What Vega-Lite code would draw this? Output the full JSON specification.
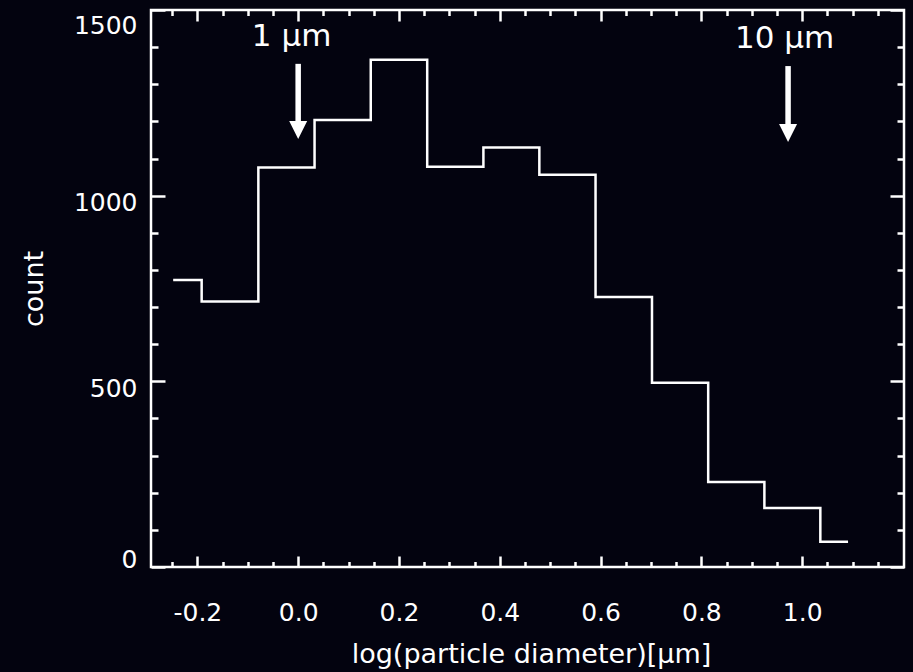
{
  "$schema": "https://vega.github.io/schema/vega-lite/v6.json",
  "width": 753,
  "height": 557,
  "autosize": {"type": "none"},
  "padding": {"left": 151, "top": 10, "right": 9, "bottom": 105},
  "background": "#03030f",
  "config": {
    "view": {"stroke": "#ffffff", "strokeWidth": 2.5},
    "axis": {
      "domain": false,
      "grid": false,
      "tickColor": "#ffffff",
      "tickWidth": 2.5,
      "labelColor": "#ffffff",
      "titleColor": "#ffffff",
      "labelFont": "DejaVu Sans",
      "titleFont": "DejaVu Sans",
      "labelFontSize": 25,
      "titleFontSize": 27,
      "titleFontWeight": "normal",
      "labelFlush": false,
      "labelOverlap": false,
      "labelBound": false
    }
  },
  "datasets": {
    "hist": [
      {"logd": -0.248, "count": 773},
      {"logd": -0.135, "count": 715},
      {"logd": -0.023, "count": 1076},
      {"logd": 0.088, "count": 1204},
      {"logd": 0.2, "count": 1366},
      {"logd": 0.312, "count": 1078},
      {"logd": 0.423, "count": 1130},
      {"logd": 0.534, "count": 1056},
      {"logd": 0.646, "count": 727},
      {"logd": 0.758, "count": 496},
      {"logd": 0.869, "count": 229},
      {"logd": 0.981, "count": 159},
      {"logd": 1.091, "count": 68}
    ],
    "arrows": [
      {"x": 0.0, "top": 1355, "bottom": 1190, "tip": 1177},
      {"x": 0.972, "top": 1349, "bottom": 1182, "tip": 1169}
    ],
    "notes": [
      {"label": "1 µm", "x": -0.013, "y": 1403},
      {"label": "10 µm", "x": 0.965, "y": 1398}
    ]
  },
  "layer": [
    {
      "data": {"name": "hist"},
      "mark": {"type": "line", "interpolate": "step", "color": "#ffffff", "strokeWidth": 2.5},
      "encoding": {
        "x": {
          "field": "logd",
          "type": "quantitative",
          "scale": {"domain": [-0.292, 1.202], "nice": false, "zero": false},
          "axis": {
            "orient": "bottom",
            "title": "log(particle diameter)[µm]",
            "titleX": 380,
            "titleY": 95,
            "titleBaseline": "alphabetic",
            "values": [-0.25, -0.2, -0.15, -0.1, -0.05, 0, 0.05, 0.1, 0.15, 0.2, 0.25, 0.3, 0.35, 0.4, 0.45, 0.5, 0.55, 0.6, 0.65, 0.7, 0.75, 0.8, 0.85, 0.9, 0.95, 1.0, 1.05, 1.1, 1.15],
            "tickSize": {"condition": {"test": "abs(datum.value*5 - round(datum.value*5)) < 0.001", "value": -11}, "value": -5.5},
            "labelBaseline": "middle",
            "labelPadding": 56,
            "labelExpr": "abs(datum.value*5 - round(datum.value*5)) < 0.001 ? (datum.value < -0.001 ? '-' + format(-datum.value, '.1f') : format(abs(datum.value), '.1f')) : ''"
          }
        },
        "y": {
          "field": "count",
          "type": "quantitative",
          "scale": {"domain": [0, 1500], "nice": false, "zero": false},
          "axis": {
            "orient": "left",
            "title": "count",
            "titleX": -109,
            "titleY": 278.5,
            "titleAngle": -90,
            "titleBaseline": "alphabetic",
            "values": [0, 100, 200, 300, 400, 500, 600, 700, 800, 900, 1000, 1100, 1200, 1300, 1400, 1500],
            "tickSize": {"condition": {"test": "datum.value % 500 === 0", "value": -14}, "value": -7},
            "labelBaseline": "middle",
            "labelPadding": 28,
            "labelOffset": {"condition": [{"test": "datum.value === 1500", "value": 15}, {"test": "datum.value === 0", "value": -7.5}], "value": 7},
            "labelExpr": "datum.value % 500 === 0 ? format(datum.value, 'd') : ''"
          }
        }
      }
    },
    {
      "data": {"name": "hist"},
      "mark": {"type": "line", "interpolate": "step", "opacity": 0},
      "encoding": {
        "x": {
          "field": "logd",
          "type": "quantitative",
          "scale": {"domain": [-0.292, 1.202], "nice": false, "zero": false},
          "axis": {
            "orient": "top",
            "title": null,
            "labels": false,
            "values": [-0.25, -0.2, -0.15, -0.1, -0.05, 0, 0.05, 0.1, 0.15, 0.2, 0.25, 0.3, 0.35, 0.4, 0.45, 0.5, 0.55, 0.6, 0.65, 0.7, 0.75, 0.8, 0.85, 0.9, 0.95, 1.0, 1.05, 1.1, 1.15],
            "tickSize": {"condition": {"test": "abs(datum.value*5 - round(datum.value*5)) < 0.001", "value": -11}, "value": -5.5}
          }
        },
        "y": {
          "field": "count",
          "type": "quantitative",
          "scale": {"domain": [0, 1500], "nice": false, "zero": false},
          "axis": {
            "orient": "right",
            "title": null,
            "labels": false,
            "values": [0, 100, 200, 300, 400, 500, 600, 700, 800, 900, 1000, 1100, 1200, 1300, 1400, 1500],
            "tickSize": {"condition": {"test": "datum.value % 500 === 0", "value": -14}, "value": -7}
          }
        }
      }
    },
    {
      "data": {"name": "arrows"},
      "mark": {"type": "rule", "color": "#ffffff", "strokeWidth": 5.5},
      "encoding": {
        "x": {"field": "x", "type": "quantitative", "scale": {"domain": [-0.292, 1.202], "nice": false, "zero": false}, "axis": null},
        "y": {"field": "top", "type": "quantitative", "scale": {"domain": [0, 1500], "nice": false, "zero": false}, "axis": null},
        "y2": {"field": "bottom"}
      }
    },
    {
      "data": {"name": "arrows"},
      "mark": {"type": "point", "shape": "M-1,-1L1,-1L0,1Z", "filled": true, "size": 324, "color": "#ffffff", "opacity": 1, "strokeWidth": 0},
      "encoding": {
        "x": {"field": "x", "type": "quantitative", "scale": {"domain": [-0.292, 1.202], "nice": false, "zero": false}, "axis": null},
        "y": {"field": "tip", "type": "quantitative", "scale": {"domain": [0, 1500], "nice": false, "zero": false}, "axis": null}
      }
    },
    {
      "data": {"name": "notes"},
      "mark": {"type": "text", "font": "DejaVu Sans", "fontSize": 31, "color": "#ffffff", "align": "center", "baseline": "alphabetic"},
      "encoding": {
        "x": {"field": "x", "type": "quantitative", "scale": {"domain": [-0.292, 1.202], "nice": false, "zero": false}, "axis": null},
        "y": {"field": "y", "type": "quantitative", "scale": {"domain": [0, 1500], "nice": false, "zero": false}, "axis": null},
        "text": {"field": "label"}
      }
    }
  ],
  "resolve": {"axis": {"x": "independent", "y": "independent"}}
}
